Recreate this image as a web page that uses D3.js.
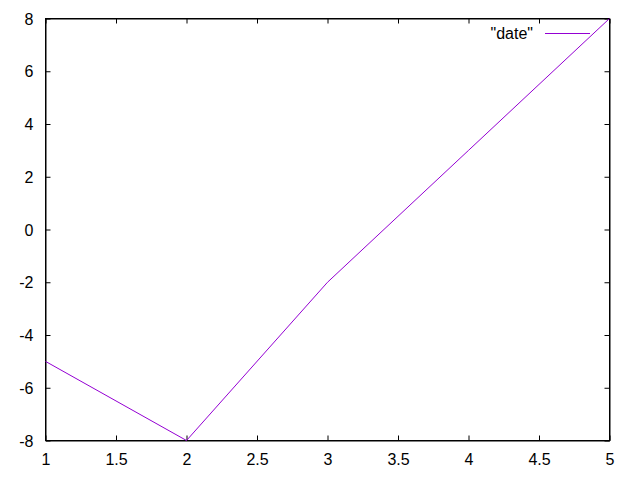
<!DOCTYPE html>
<html><head><meta charset="utf-8">
<script src="https://cdn.jsdelivr.net/npm/d3@7"></script>
<style>body{margin:0;background:#fff}svg{display:block}text{font-family:"Liberation Sans",Arial,sans-serif;font-size:16px;fill:#000}</style>
</head><body>
<script>
const xValues = [1, 2, 3, 4, 5];
const yValues = [-5, -8, -2, 3, 8];
const seriesName = '"date"';
const xTicks = [1, 1.5, 2, 2.5, 3, 3.5, 4, 4.5, 5];
const yTicks = [-8, -6, -4, -2, 0, 2, 4, 6, 8];

const W = 640, H = 480;
const L = 45.5, R = 609.5, T = 18.5, B = 440.5;
const svg = d3.select("body").append("svg").attr("width", W).attr("height", H);
const x = d3.scaleLinear().domain([1, 5]).range([L, R]);
const y = d3.scaleLinear().domain([-8, 8]).range([B, T]);
const tl = 5;

const gb = svg.append("g").attr("transform", `translate(0,${B})`)
  .call(d3.axisBottom(x).tickValues(xTicks).tickSizeInner(-tl).tickSizeOuter(0).tickPadding(0).tickFormat(d => d));
const gt = svg.append("g").attr("transform", `translate(0,${T})`)
  .call(d3.axisTop(x).tickValues(xTicks).tickSizeInner(-tl).tickSizeOuter(0).tickFormat(""));
const gl = svg.append("g").attr("transform", `translate(${L},0)`)
  .call(d3.axisLeft(y).tickValues(yTicks).tickSizeInner(-tl).tickSizeOuter(0).tickFormat(d => d));
const gr = svg.append("g").attr("transform", `translate(${R},0)`)
  .call(d3.axisRight(y).tickValues(yTicks).tickSizeInner(-tl).tickSizeOuter(0).tickFormat(""));

[gb, gt, gl, gr].forEach(g => {
  g.selectAll(".domain").attr("stroke", "#000").attr("stroke-width", 1);
  g.selectAll(".tick line").attr("stroke", "#000").attr("stroke-width", 1);
  g.selectAll("text").attr("font-family", null).attr("font-size", null).attr("fill", "#000");
});
gb.selectAll(".tick text").attr("y", 0).attr("dy", null).attr("transform", "translate(0,24)");
gl.selectAll(".tick text").attr("x", -12).attr("dy", "0.35em");

svg.append("rect").attr("x", L).attr("y", T).attr("width", R - L).attr("height", B - T)
  .attr("fill", "none").attr("stroke", "#000").attr("stroke-width", 1);

const data = xValues.map((v, i) => ({x: v, y: yValues[i]}));
svg.append("path").datum(data)
  .attr("fill", "none").attr("stroke", "#9400d3").attr("stroke-width", 1)
  .attr("d", d3.line().x(d => x(d.x)).y(d => y(d.y)));

svg.append("text").attr("x", 533).attr("y", 38.5).attr("text-anchor", "end").text(seriesName);
svg.append("line").attr("x1", 545).attr("x2", 590).attr("y1", 33.5).attr("y2", 33.5)
  .attr("stroke", "#9400d3").attr("stroke-width", 1);
</script>
</body></html>
